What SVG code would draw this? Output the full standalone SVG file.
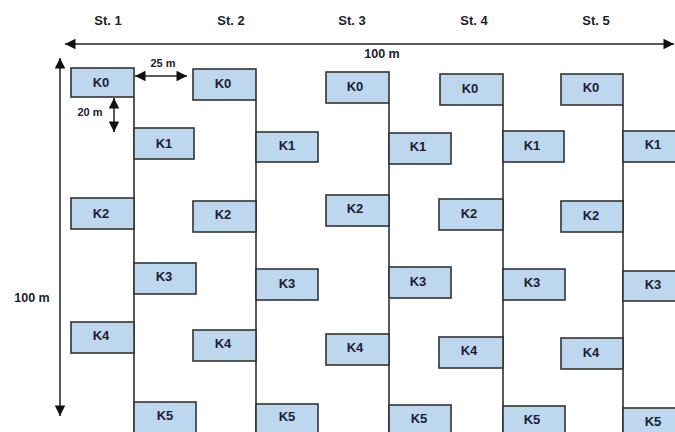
<svg xmlns="http://www.w3.org/2000/svg" width="675" height="432" viewBox="0 0 675 432">
<style>
.b{fill:#bdd7ee;stroke:#333;stroke-width:1.6}
.t{font-family:"Liberation Sans",Arial,sans-serif;font-weight:bold;font-size:13px;fill:#1c1c34;text-anchor:middle}
.h{font-family:"Liberation Sans",Arial,sans-serif;font-weight:bold;font-size:13px;fill:#1c1c34;text-anchor:middle}
.m{font-family:"Liberation Sans",Arial,sans-serif;font-weight:bold;font-size:12.5px;fill:#1c1c34;text-anchor:middle}
.d{font-family:"Liberation Sans",Arial,sans-serif;font-weight:bold;font-size:11px;fill:#1c1c34;text-anchor:middle}
.l{stroke:#222;stroke-width:1.5;fill:none}
.a{stroke:#222;stroke-width:1.5;fill:none;marker-start:url(#ah);marker-end:url(#ah)}
</style>
<defs>
<marker id="ah" viewBox="0 0 10 10" refX="10" refY="5" markerWidth="8" markerHeight="7" orient="auto-start-reverse" markerUnits="strokeWidth"><path d="M0,0 L10,5 L0,10 z" fill="#111"/></marker>
</defs>
<g id="headers">
<text class="h" x="108" y="25">St. 1</text>
<text class="h" x="231" y="25">St. 2</text>
<text class="h" x="352" y="25">St. 3</text>
<text class="h" x="474" y="25">St. 4</text>
<text class="h" x="596" y="25">St. 5</text>
</g>
<g id="connectors">
<line class="l" x1="134" y1="97" x2="134" y2="432"/>
<line class="l" x1="256" y1="100" x2="256" y2="432"/>
<line class="l" x1="389" y1="103" x2="389" y2="432"/>
<line class="l" x1="503" y1="105" x2="503" y2="432"/>
<line class="l" x1="623" y1="105" x2="623" y2="432"/>
<line class="a" x1="65" y1="44" x2="674" y2="44"/>
<line class="a" x1="60" y1="58" x2="60" y2="416"/>
<line class="a" x1="135" y1="76" x2="187" y2="76"/>
<line class="a" x1="114" y1="98" x2="114" y2="132"/>
</g>
<g id="dims">
<text class="m" x="382" y="58">100 m</text>
<text class="m" x="32" y="302">100 m</text>
<text class="d" x="163" y="67">25 m</text>
<text class="d" x="90" y="116">20 m</text>
</g>
<g id="s1">
<g id="s1k0"><rect class="b" x="71" y="68" width="63" height="29"/><text class="t" x="101" y="87">K0</text></g>
<g id="s1k1"><rect class="b" x="134" y="128" width="60" height="31"/><text class="t" x="164" y="148">K1</text></g>
<g id="s1k2"><rect class="b" x="71" y="198" width="63" height="31"/><text class="t" x="101" y="218">K2</text></g>
<g id="s1k3"><rect class="b" x="134" y="263" width="62" height="31"/><text class="t" x="164" y="281">K3</text></g>
<g id="s1k4"><rect class="b" x="71" y="322" width="63" height="31"/><text class="t" x="101" y="340">K4</text></g>
<g id="s1k5"><rect class="b" x="134" y="402" width="62" height="35"/><text class="t" x="165" y="420">K5</text></g>
</g>
<g id="s2">
<g id="s2k0"><rect class="b" x="193" y="69" width="63" height="31"/><text class="t" x="223" y="88">K0</text></g>
<g id="s2k1"><rect class="b" x="256" y="132" width="62" height="30"/><text class="t" x="287" y="150">K1</text></g>
<g id="s2k2"><rect class="b" x="193" y="201" width="63" height="31"/><text class="t" x="223" y="219">K2</text></g>
<g id="s2k3"><rect class="b" x="256" y="269" width="62" height="31"/><text class="t" x="287" y="288">K3</text></g>
<g id="s2k4"><rect class="b" x="193" y="330" width="63" height="31"/><text class="t" x="223" y="348">K4</text></g>
<g id="s2k5"><rect class="b" x="256" y="404" width="62" height="35"/><text class="t" x="287" y="421">K5</text></g>
</g>
<g id="s3">
<g id="s3k0"><rect class="b" x="326" y="72" width="63" height="31"/><text class="t" x="355" y="91">K0</text></g>
<g id="s3k1"><rect class="b" x="389" y="133" width="62" height="31"/><text class="t" x="418" y="151">K1</text></g>
<g id="s3k2"><rect class="b" x="326" y="195" width="63" height="31"/><text class="t" x="355" y="213">K2</text></g>
<g id="s3k3"><rect class="b" x="389" y="267" width="62" height="31"/><text class="t" x="418" y="286">K3</text></g>
<g id="s3k4"><rect class="b" x="326" y="334" width="63" height="31"/><text class="t" x="355" y="352">K4</text></g>
<g id="s3k5"><rect class="b" x="389" y="405" width="62" height="35"/><text class="t" x="419" y="423">K5</text></g>
</g>
<g id="s4">
<g id="s4k0"><rect class="b" x="440" y="74" width="63" height="31"/><text class="t" x="470" y="93">K0</text></g>
<g id="s4k1"><rect class="b" x="503" y="131" width="61" height="31"/><text class="t" x="532" y="150">K1</text></g>
<g id="s4k2"><rect class="b" x="439" y="199" width="64" height="31"/><text class="t" x="469" y="218">K2</text></g>
<g id="s4k3"><rect class="b" x="503" y="269" width="62" height="31"/><text class="t" x="532" y="287">K3</text></g>
<g id="s4k4"><rect class="b" x="439" y="337" width="64" height="31"/><text class="t" x="469" y="355">K4</text></g>
<g id="s4k5"><rect class="b" x="503" y="406" width="62" height="35"/><text class="t" x="532" y="424">K5</text></g>
</g>
<g id="s5">
<g id="s5k0"><rect class="b" x="561" y="74" width="62" height="31"/><text class="t" x="591" y="92">K0</text></g>
<g id="s5k1"><rect class="b" x="623" y="131" width="62" height="31"/><text class="t" x="653" y="149">K1</text></g>
<g id="s5k2"><rect class="b" x="561" y="201" width="62" height="31"/><text class="t" x="591" y="220">K2</text></g>
<g id="s5k3"><rect class="b" x="623" y="271" width="62" height="30"/><text class="t" x="653" y="289">K3</text></g>
<g id="s5k4"><rect class="b" x="561" y="338" width="62" height="31"/><text class="t" x="591" y="357">K4</text></g>
<g id="s5k5"><rect class="b" x="623" y="408" width="62" height="35"/><text class="t" x="653" y="426">K5</text></g>
</g>
</svg>
